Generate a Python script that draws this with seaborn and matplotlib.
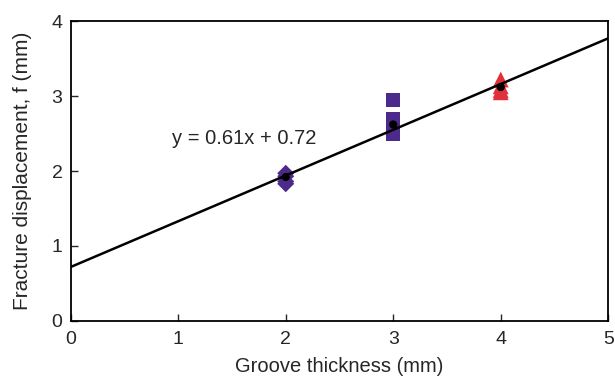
import numpy as np
import pandas as pd
import matplotlib
matplotlib.use("Agg")
import matplotlib.pyplot as plt
import seaborn as sns

# Data
thick_2 = [2, 2, 2, 2]
disp_2 = [1.97, 1.93, 1.86, 1.83]
thick_3 = [3, 3, 3, 3, 3]
disp_3 = [2.95, 2.70, 2.62, 2.55, 2.49]
thick_4 = [4, 4, 4, 4]
disp_4 = [3.22, 3.13, 3.08, 3.05]
mean_thick = [2, 3, 4]
mean_disp = [1.92, 2.62, 3.12]
slope = 0.61
intercept = 0.72
fit_x = [0, 5]
eq_label = "y = 0.61x + 0.72"
x_ticks = [0, 1, 2, 3, 4, 5]
y_ticks = [0, 1, 2, 3, 4]

sns.set_style("white")
plt.rcParams['font.family'] = ['Liberation Sans', 'DejaVu Sans']

fig = plt.figure(figsize=(6.15, 3.83), dpi=100)
ax = fig.add_axes([0.115, 0.162, 0.874, 0.783])

purple = "#4B2A8C"
red = "#E0313A"

fit_df = pd.DataFrame({"x": fit_x, "y": [slope * v + intercept for v in fit_x]})
sns.lineplot(data=fit_df, x="x", y="y", ax=ax, color="black", linewidth=1.8, zorder=3)

sns.scatterplot(x=thick_2, y=disp_2, ax=ax, marker="D", s=75, color=purple,
                edgecolor="none", zorder=2)
sns.scatterplot(x=thick_3, y=disp_3, ax=ax, marker="s", s=95, color=purple,
                edgecolor="none", zorder=2)
sns.scatterplot(x=thick_4, y=disp_4, ax=ax, marker="^", s=130, color=red,
                edgecolor="none", zorder=2)
sns.scatterplot(x=mean_thick, y=mean_disp, ax=ax, marker="o", s=35, color="black",
                edgecolor="none", zorder=4)

ax.text(0.94, 2.44, eq_label, fontsize=14.5, va="center", ha="left")

ax.set_xlim(0, 5)
ax.set_ylim(0, 4)
ax.set_xticks(x_ticks)
ax.set_yticks(y_ticks)
ax.set_xlabel("Groove thickness (mm)", fontsize=14.5, labelpad=7)
ax.set_ylabel("Fracture displacement, f (mm)", fontsize=15, labelpad=14)
ax.tick_params(direction="in", length=5, width=1, labelsize=14, left=True, bottom=True)
ax.tick_params(axis="x", pad=7)
ax.tick_params(axis="y", pad=6)
for sp in ax.spines.values():
    sp.set_color("black")
    sp.set_linewidth(1.3)

fig.savefig("out.png", dpi=100)
